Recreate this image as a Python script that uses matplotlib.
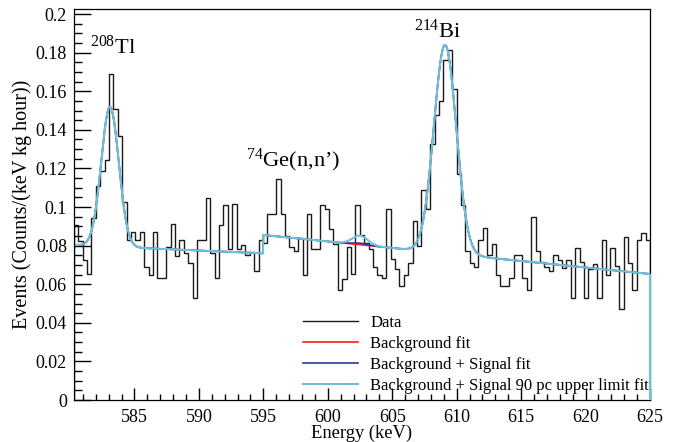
import numpy as np
import matplotlib
matplotlib.use('Agg')
import matplotlib.pyplot as plt
from matplotlib.ticker import MultipleLocator, FuncFormatter

plt.rcParams['font.family'] = 'Liberation Serif'
plt.rcParams['mathtext.fontset'] = 'custom'
plt.rcParams['mathtext.rm'] = 'Liberation Serif'
plt.rcParams['mathtext.it'] = 'Liberation Serif:italic'

# histogram range (keV) and bin contents, Counts/(keV kg hour)
e_lo, e_hi = 580.3, 625.0
counts = [
    0.0905, 0.0825, 0.0725, 0.0655, 0.0945, 0.111, 0.1185, 0.1245, 0.169, 0.151,
    0.137, 0.1025, 0.083, 0.087, 0.083, 0.087, 0.069, 0.065, 0.087, 0.063,
    0.063, 0.0795, 0.091, 0.0745, 0.083, 0.076, 0.071, 0.053, 0.083, 0.083,
    0.1045, 0.076, 0.063, 0.0905, 0.101, 0.0785, 0.1015, 0.0785, 0.0805, 0.075,
    0.0765, 0.067, 0.083, 0.0815, 0.0965, 0.0965, 0.1145, 0.0965, 0.085, 0.0795,
    0.077, 0.084, 0.065, 0.0965, 0.0785, 0.0785, 0.101, 0.099, 0.0885, 0.081,
    0.057, 0.0625, 0.0795, 0.0655, 0.101, 0.0855, 0.0815, 0.078, 0.069, 0.065,
    0.063, 0.099, 0.073, 0.068, 0.059, 0.065, 0.071, 0.093, 0.080, 0.109,
    0.099, 0.1325, 0.1475, 0.155, 0.176, 0.1815, 0.161, 0.117, 0.101, 0.077,
    0.071, 0.069, 0.083, 0.089, 0.075, 0.081, 0.065, 0.059, 0.059, 0.063,
    0.075, 0.075, 0.063, 0.057, 0.095, 0.077, 0.0715, 0.069, 0.067, 0.075,
    0.0725, 0.0685, 0.0727, 0.053, 0.0787, 0.0715, 0.053, 0.068, 0.0706, 0.053,
    0.083, 0.065, 0.0787, 0.0695, 0.0473, 0.0847, 0.071, 0.057, 0.083, 0.0867,
    0.083,
]

# fit parameters
split_e = 595.0                  # boundary between the two fit ranges
bkg_left = (0.0803, 0.0760)      # linear background at e_lo, split_e
bkg_right = (0.0855, 0.0653)     # linear background at split_e, e_hi
tl_mean, tl_sigma, tl_amp = 583.1, 0.68, 0.0725
bi_mean, bi_sigma, bi_amp = 609.1, 0.87, 0.108
ge_mean, ge_sigma = 602.5, 0.6
ge_amp_fit = 0.0008
ge_amp_limit = 0.0047


def gauss(e, mu, s, a):
    return a * np.exp(-0.5 * ((e - mu) / s) ** 2)


def fit_curve(e, ge_amp):
    left = e < split_e
    b1 = bkg_left[0] + (bkg_left[1] - bkg_left[0]) * (e - e_lo) / (split_e - e_lo)
    b2 = bkg_right[0] + (bkg_right[1] - bkg_right[0]) * (e - split_e) / (e_hi - split_e)
    y1 = b1 + gauss(e, tl_mean, tl_sigma, tl_amp)
    y2 = b2 + gauss(e, bi_mean, bi_sigma, bi_amp) + gauss(e, ge_mean, ge_sigma, ge_amp)
    return np.where(left, y1, y2)


edges = np.linspace(e_lo, e_hi, len(counts) + 1)
ee = np.concatenate([np.linspace(e_lo, split_e, 600, endpoint=False),
                     np.linspace(split_e, e_hi, 1200)])

fig = plt.figure(figsize=(6.78, 4.42), dpi=100)
ax = fig.add_axes([0.109, 0.095, 0.8497, 0.8846])

c_red = '#ff1a1a'
c_blue = '#2a3a95'
c_cyan = '#6cc3dc'

h_data = ax.stairs(counts, edges, baseline=0, color='#1a1a1a', lw=1.0)
h_bkg, = ax.plot(ee, fit_curve(ee, 0.0), color=c_red, lw=1.2)
h_sig, = ax.plot(ee, fit_curve(ee, ge_amp_fit), color=c_blue, lw=1.2)
h_lim, = ax.plot(ee, fit_curve(ee, ge_amp_limit), color=c_cyan, lw=1.5)
ax.vlines(e_hi, 0, fit_curve(np.array([e_hi]), ge_amp_limit)[0], color=c_cyan,
          lw=1.5, clip_on=False, zorder=5)

ax.set_xlim(e_lo, e_hi)
ax.set_ylim(0, 0.2026)

ax.xaxis.set_major_locator(MultipleLocator(5))
ax.xaxis.set_minor_locator(MultipleLocator(1))
ax.yaxis.set_major_locator(MultipleLocator(0.02))
ax.yaxis.set_minor_locator(MultipleLocator(0.005))
ax.yaxis.set_major_formatter(FuncFormatter(lambda v, p: '%g' % round(v, 3)))
ax.tick_params(direction='in', which='both', top=False, right=False,
               labelsize=13, width=1.0)
ax.tick_params(axis='x', which='major', length=8.6, pad=6.5)
ax.tick_params(axis='x', which='minor', length=4.3)
ax.tick_params(axis='y', which='major', length=12.2, pad=5)
ax.tick_params(axis='y', which='minor', length=6.1)
for s in ax.spines.values():
    s.set_linewidth(0.9)

ax.set_xlabel('Energy (keV)', fontsize=13.3)
ax.set_ylabel('Events (Counts/(keV kg hour))', fontsize=14.5)
ax.xaxis.set_label_coords(0.5, -0.062)
ax.yaxis.set_label_coords(-0.073, 0.5)

ax.text(581.56, 0.1796, r'$^{208}$Tl', fontsize=16.2, va='baseline', ha='left')
ax.text(606.66, 0.1879, r'$^{214}$Bi', fontsize=16.2, va='baseline', ha='left')
ax.text(593.62, 0.1212, r'$^{74}$Ge(n,n’)', fontsize=16.2, va='baseline', ha='left')

ax.legend([h_data, h_bkg, h_sig, h_lim],
          ['Data', 'Background fit', 'Background + Signal fit',
           'Background + Signal 90 pc upper limit fit'],
          loc='upper left', bbox_to_anchor=(0.3976, 0.218), frameon=False,
          fontsize=12, handlelength=3.3, handletextpad=0.75,
          labelspacing=0.3, borderpad=0, borderaxespad=0)

fig.savefig('out.png', dpi=100)
plt.close(fig)
